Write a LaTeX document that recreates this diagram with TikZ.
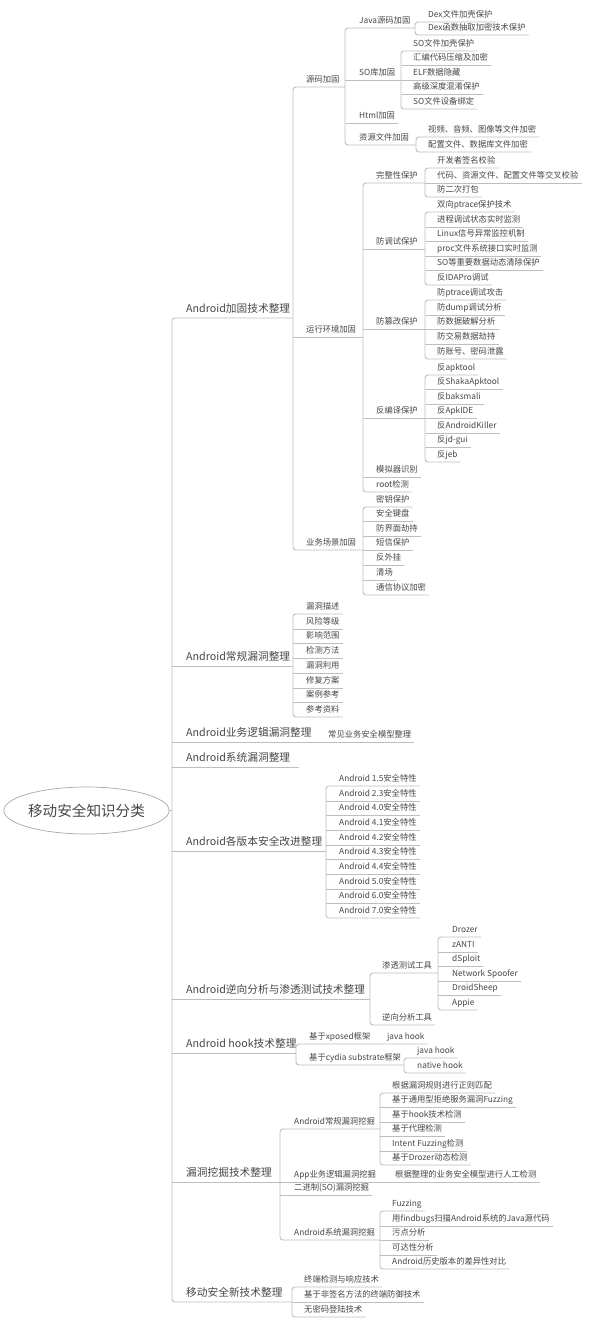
\documentclass[tikz,border=0pt]{standalone}
\usepackage{fontspec}
\setmainfont{Noto Sans CJK SC}
\usetikzlibrary{shapes.geometric}
\definecolor{txt}{HTML}{474747}
\definecolor{lnc}{HTML}{BEBEBE}
\definecolor{elc}{HTML}{A8A8A8}
\newcommand\grp[3]{%
  \draw[br] (#11.south east) -- (#2 |- #11.south) -- (#2 |- #1#3.south) -- (#1#3.south east);
  \pgfmathtruncatemacro\grpmid{#3-1}%
  \ifnum#3>2 \foreach \k in {2,...,\grpmid} {\draw[ln] (#2 |- #1\k.south) -- (#1\k.south east);}\fi}
\begin{document}
\begin{tikzpicture}[x=1pt,y=-1pt,
  ln/.style={draw=lnc,line width=0.9pt},
  br/.style={draw=lnc,line width=0.9pt,rounded corners=3pt},
  sn/.style={anchor=south west,xshift=-3pt,inner xsep=3pt,inner ysep=0pt,text height=6.3pt,text depth=4pt,font=\fontsize{8.3}{9}\selectfont,text=txt},
  bn/.style={anchor=south west,xshift=-9pt,inner xsep=9pt,inner ysep=0pt,text height=8pt,text depth=5pt,font=\fontsize{10.7}{12}\selectfont,text=txt},
  rootnode/.style={ellipse,draw=elc,line width=0.7pt,minimum width=159pt,minimum height=47pt,inner sep=0pt,font=\fontsize{14.6}{16}\selectfont,text=txt}]
\fill[white] (0,0) rectangle (591,1324);
\useasboundingbox (0,0) rectangle (591,1324);

% root
\node[rootnode] (R) at (86.5,810.5) {移动安全知识分类};
\coordinate (T) at (172,810.5);

% level 1
\node[bn] (A) at (186,318) {Android加固技术整理}; \coordinate (Ax) at (293,318);
\node[bn] (B) at (186,666) {Android常规漏洞整理}; \coordinate (Bx) at (293,666);
\node[bn] (C) at (186,742) {Android业务逻辑漏洞整理};
\node[bn] (D) at (186,767) {Android系统漏洞整理};
\node[bn] (E) at (186,851) {Android各版本安全改进整理}; \coordinate (Ex) at (326,851);
\node[bn] (F) at (186,999) {Android逆向分析与渗透测试技术整理}; \coordinate (Fx) at (370,999);
\node[bn] (G) at (186,1053) {Android hook技术整理}; \coordinate (Gx) at (296,1053);
\node[bn] (H) at (186,1182) {漏洞挖掘技术整理}; \coordinate (Hx) at (280,1182);
\node[bn] (I) at (186,1302) {移动安全新技术整理}; \coordinate (Ix) at (292,1302);

% A subtree
\node[sn] (A1) at (306,87) {源码加固}; \coordinate (A1x) at (345,87);
\node[sn] (A2) at (306,337) {运行环境加固}; \coordinate (A2x) at (363,337);
\node[sn] (A3) at (306,550) {业务场景加固}; \coordinate (A3x) at (363,550);

\node[sn] (A1a) at (359,28) {Java源码加固}; \coordinate (A1ax) at (415,28);
\node[sn] (A1b) at (359,80) {SO库加固}; \coordinate (A1bx) at (401,80);
\node[sn] (A1c) at (359,123) {Html加固};
\node[sn] (A1d) at (359,145) {资源文件加固}; \coordinate (A1dx) at (416,145);

\foreach \t/\y [count=\i] in {Dex文件加壳保护/22,Dex函数抽取加密技术保护/35}
  \node[sn] (A1a\i) at (428,\y) {\t};
\foreach \t/\y [count=\i] in {SO文件加壳保护/51,汇编代码压缩及加密/65,ELF数据隐藏/80,高级深度混淆保护/94,SO文件设备绑定/109}
  \node[sn] (A1b\i) at (413,\y) {\t};
\foreach \t/\y [count=\i] in {视频、音频、图像等文件加密/137,配置文件、数据库文件加密/152}
  \node[sn] (A1d\i) at (428,\y) {\t};

\node[sn] (A2a) at (376,183) {完整性保护}; \coordinate (A2ax) at (425,183);
\node[sn] (A2b) at (376,249) {防调试保护}; \coordinate (A2bx) at (425,249);
\node[sn] (A2c) at (376,329) {防篡改保护}; \coordinate (A2cx) at (425,329);
\node[sn] (A2d) at (376,418) {反编译保护}; \coordinate (A2dx) at (425,418);
\node[sn] (A2e) at (376,477) {模拟器识别};
\node[sn] (A2f) at (376,492) {root检测};

\foreach \t/\y [count=\i] in {开发者签名校验/168,代码、资源文件、配置文件等交叉校验/183,防二次打包/197}
  \node[sn] (A2a\i) at (437,\y) {\t};
\foreach \t/\y [count=\i] in {双向ptrace保护技术/212,进程调试状态实时监测/227,Linux信号异常监控机制/241,proc文件系统接口实时监测/256,SO等重要数据动态清除保护/270,反IDAPro调试/285}
  \node[sn] (A2b\i) at (437,\y) {\t};
\foreach \t/\y [count=\i] in {防ptrace调试攻击/300,防dump调试分析/315,防数据破解分析/329,防交易数据劫持/344,防账号、密码泄露/359}
  \node[sn] (A2c\i) at (437,\y) {\t};
\foreach \t/\y [count=\i] in {反apktool/375,反ShakaApktool/389,反baksmali/404,反ApkIDE/418,反AndroidKiller/433,反jd-gui/447,反jeb/462}
  \node[sn] (A2d\i) at (437,\y) {\t};
\foreach \t/\y [count=\i] in {密钥保护/507,安全键盘/521,防界面劫持/536,短信保护/550,反外挂/565,清场/580,通信协议加密/595}
  \node[sn] (A3\i) at (376,\y) {\t};

% B subtree
\foreach \t/\y [count=\i] in {漏洞描述/614,风险等级/629,影响范围/643,检测方法/658,漏洞利用/673,修复方案/688,案例参考/702,参考资料/717}
  \node[sn] (B\i) at (306,\y) {\t};

% C
\node[sn] (C1) at (328,742) {常见业务安全模型整理};

% E subtree
\foreach \t/\y [count=\i] in {Android 1.5安全特性/786,Android 2.3安全特性/801,Android 4.0安全特性/815,Android 4.1安全特性/830,Android 4.2安全特性/845,Android 4.3安全特性/859,Android 4.4安全特性/874,Android 5.0安全特性/889,Android 6.0安全特性/903,Android 7.0安全特性/918}
  \node[sn] (E\i) at (339,\y) {\t};

% F subtree
\node[sn] (F1) at (382,973) {渗透测试工具}; \coordinate (F1x) at (438,973);
\node[sn] (F2) at (382,1025) {逆向分析工具};
\foreach \t/\y [count=\i] in {Drozer/937,zANTI/952,dSploit/966,Network Spoofer/981,DroidSheep/995,Appie/1010}
  \node[sn] (F1\i) at (452,\y) {\t};

% G subtree
\node[sn] (G1) at (309,1044) {基于xposed框架};
\node[sn] (G11) at (387,1044) {java hook};
\node[sn] (G2) at (309,1065) {基于cydia substrate框架}; \coordinate (G2x) at (404,1065);
\foreach \t/\y [count=\i] in {java hook/1058,native hook/1073}
  \node[sn] (G2\i) at (417,\y) {\t};

% H subtree
\node[sn] (H1) at (294,1129) {Android常规漏洞挖掘}; \coordinate (H1x) at (380,1129);
\node[sn] (H2) at (294,1182) {App业务逻辑漏洞挖掘};
\node[sn] (H21) at (395,1182) {根据整理的业务安全模型进行人工检测};
\node[sn] (H3) at (294,1195) {二进制(SO)漏洞挖掘};
\node[sn] (H4) at (294,1240) {Android系统漏洞挖掘}; \coordinate (H4x) at (380,1240);
\foreach \t/\y [count=\i] in {根据漏洞规则进行正则匹配/1093,基于通用型拒绝服务漏洞Fuzzing/1107,基于hook技术检测/1122,基于代理检测/1136,Intent Fuzzing检测/1151,基于Drozer动态检测/1165}
  \node[sn] (H1\i) at (392,\y) {\t};
\foreach \t/\y [count=\i] in {Fuzzing/1211,用findbugs扫描Android系统的Java源代码/1226,污点分析/1240,可达性分析/1255,Android历史版本的差异性对比/1269}
  \node[sn] (H4\i) at (392,\y) {\t};

% I subtree
\foreach \t/\y [count=\i] in {终端检测与响应技术/1287,基于非签名方法的终端防御技术/1302,无密码登陆技术/1317}
  \node[sn] (I\i) at (304,\y) {\t};

% ---------- connectors ----------
\draw[ln] (R.east) -- (T);
\draw[br] (Ax) -- (T |- A.south) -- (T |- I.south) -- (Ix);
\draw[ln] (T |- B.south) -- (Bx);
\draw[ln] (T |- C.south) -- (C1.south east);
\draw[ln] (T |- D.south) -- (D.south east);
\draw[ln] (T |- E.south) -- (Ex);
\draw[ln] (T |- F.south) -- (Fx);
\draw[ln] (T |- G.south) -- (Gx);
\draw[ln] (T |- H.south) -- (Hx);

% A
\draw[br] (A1x) -- (Ax |- A1.south) -- (Ax |- A3.south) -- (A3x);
\draw[ln] (Ax |- A2.south) -- (A2x);
\draw[br] (A1ax) -- (A1x |- A1a.south) -- (A1x |- A1d.south) -- (A1dx);
\draw[ln] (A1x |- A1b.south) -- (A1bx);
\draw[ln] (A1x |- A1c.south) -- (A1c.south east);
\grp{A1a}{A1ax}{2}
\grp{A1b}{A1bx}{5}
\grp{A1d}{A1dx}{2}
\draw[br] (A2ax) -- (A2x |- A2a.south) -- (A2x |- A2f.south) -- (A2f.south east);
\draw[ln] (A2x |- A2b.south) -- (A2bx);
\draw[ln] (A2x |- A2c.south) -- (A2cx);
\draw[ln] (A2x |- A2d.south) -- (A2dx);
\draw[ln] (A2x |- A2e.south) -- (A2e.south east);
\grp{A2a}{A2ax}{3}
\grp{A2b}{A2bx}{6}
\grp{A2c}{A2cx}{5}
\grp{A2d}{A2dx}{7}
\grp{A3}{A3x}{7}

% B, E
\grp{B}{Bx}{8}
\grp{E}{Ex}{10}

% F
\draw[br] (F1x) -- (Fx |- F1.south) -- (Fx |- F2.south) -- (F2.south east);
\grp{F1}{F1x}{6}

% G
\draw[br] (G11.south east) -- (Gx |- G1.south) -- (Gx |- G2.south) -- (G2x);
\grp{G2}{G2x}{2}

% H
\draw[br] (H1x) -- (Hx |- H1.south) -- (Hx |- H4.south) -- (H4x);
\draw[ln] (Hx |- H2.south) -- (H21.south east);
\draw[ln] (Hx |- H3.south) -- (H3.south east);
\grp{H1}{H1x}{6}
\grp{H4}{H4x}{5}

% I
\grp{I}{Ix}{3}
\end{tikzpicture}
\end{document}
